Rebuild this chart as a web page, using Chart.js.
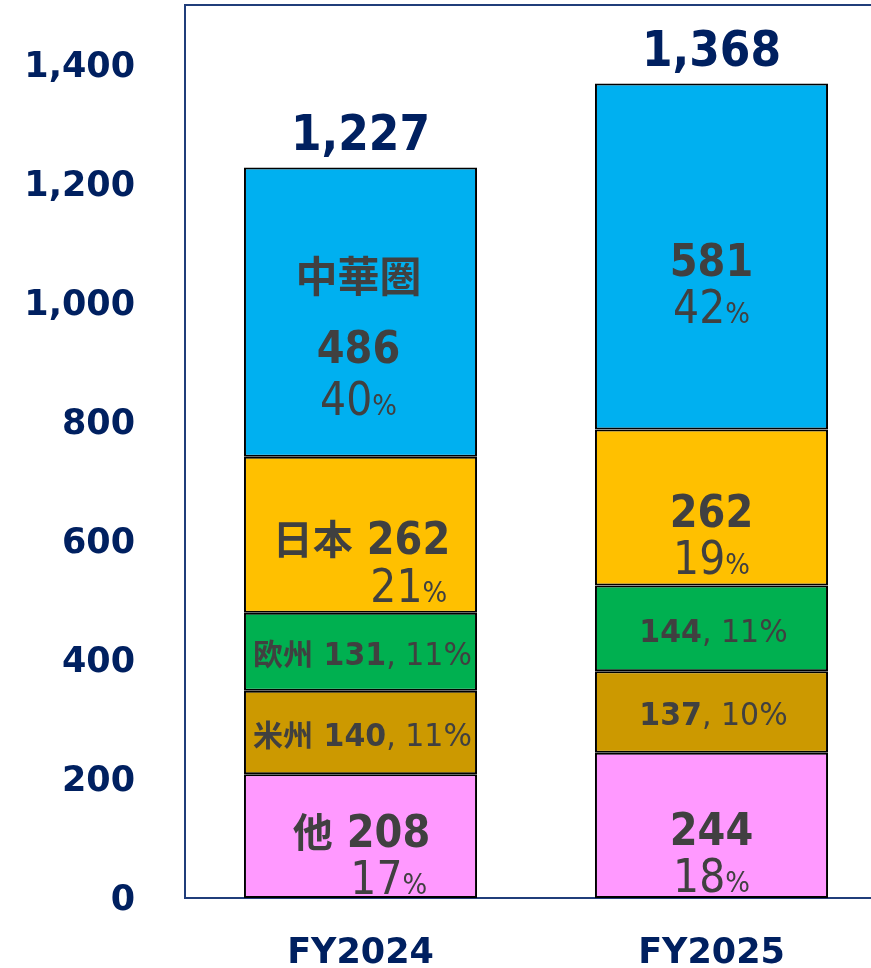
<!DOCTYPE html>
<html>
<head>
<meta charset="utf-8">
<script src="https://cdn.jsdelivr.net/npm/chart.js@4/dist/chart.umd.min.js"></script>
<style>
  html, body { margin: 0; padding: 0; background: #fff; overflow: hidden; }
  canvas { display: block; }
</style>
</head>
<body>
<canvas id="regionChart" width="888" height="968"></canvas>
<script>
// data
const categories = ['FY2024', 'FY2025'];
const regions = ['他', '米州', '欧州', '日本', '中華圏'];
const valOther = [208, 244];
const valAmericas = [140, 137];
const valEurope = [131, 144];
const valJapan = [262, 262];
const valChina = [486, 581];
const shareOther = [17, 18];
const shareAmericas = [11, 10];
const shareEurope = [11, 11];
const shareJapan = [21, 19];
const shareChina = [40, 42];
const totals = [1227, 1368];
const yTicks = [0, 200, 400, 600, 800, 1000, 1200, 1400];

const values = [valOther, valAmericas, valEurope, valJapan, valChina];
const shares = [shareOther, shareAmericas, shareEurope, shareJapan, shareChina];
const colors = ['#FF99FF', '#CC9900', '#00B050', '#FFC000', '#00B0F0'];
const inlineRegions = ['米州', '欧州'];

const FAMILY = "'DejaVu Sans', 'Noto Sans CJK JP', sans-serif";
const NAVY = '#002060';
const AXIS = '#203D7A';
const TEXT = '#404040';
const STRETCH = 1.12; // latin glyphs in the original are a little taller than DejaVu

function runFont(r) {
    return r.w + ' ' + r.s + 'px ' + FAMILY;
}

// draws a list of text runs on one line, vertically centred on y
function drawRuns(ctx, runs, x, y, align) {
    let total = 0;
    let half = 0;
    runs.forEach(r => {
        ctx.font = runFont(r);
        r.width = ctx.measureText(r.t).width;
        total += r.width;
        const sy = r.cjk ? 1 : (r.sy || STRETCH);
        half = Math.max(half, (r.cjk ? 0.38 : 0.729 / 2) * r.s * sy);
    });
    const baseline = y + half;
    const left = align === 'right' ? x - total : x - total / 2;
    let start = left;
    runs.forEach(r => {
        ctx.save();
        ctx.font = runFont(r);
        ctx.translate(start, baseline);
        ctx.scale(1, r.cjk ? 1 : (r.sy || STRETCH));
        ctx.fillText(r.t, 0, 0);
        ctx.restore();
        start += r.width;
    });
    return { left: left, right: left + total };
}

function pctRuns(p) {
    return [{ t: String(p), w: 'normal', s: 41 }, { t: '%', w: 'normal', s: 26 }];
}

const segmentLabels = {
    id: 'segmentLabels',
    afterDatasetsDraw(chart) {
        const ctx = chart.ctx;
        ctx.save();
        ctx.textAlign = 'left';
        ctx.textBaseline = 'alphabetic';
        ctx.fillStyle = TEXT;
        chart.data.datasets.forEach((ds, di) => {
            const meta = chart.getDatasetMeta(di);
            const name = regions[di];
            meta.data.forEach((bar, bi) => {
                const v = values[di][bi];
                const p = shares[di][bi];
                const showName = bi === 0;
                const top = Math.min(bar.y, bar.base);
                const bottom = Math.max(bar.y, bar.base);
                const center = (top + bottom) / 2;
                if (inlineRegions.includes(name)) {
                    const runs = [];
                    if (showName) runs.push({ t: name + ' ', w: 'bold', s: 30, cjk: true });
                    runs.push({ t: String(v), w: 'bold', s: 30, sy: 1.04 });
                    runs.push({ t: ', ' + p + '%', w: 'normal', s: 30, sy: 1.04 });
                    drawRuns(ctx, runs, bar.x + 2, center + 2, 'center');
                    return;
                }
                let valueY = center + 3;
                let pctY = valueY + 47;
                if (pctY > bottom - 21) {
                    pctY = bottom - 21;
                    valueY = pctY - 46;
                }
                if (name === '中華圏' && showName) {
                    valueY = center + 34;
                    pctY = valueY + 52;
                    drawRuns(ctx, [{ t: name, w: 'bold', s: 42, cjk: true }], bar.x - 2, valueY - 70, 'center');
                    drawRuns(ctx, [{ t: String(v), w: 'bold', s: 40 }], bar.x - 2, valueY, 'center');
                    drawRuns(ctx, pctRuns(p), bar.x - 2, pctY, 'center');
                } else if (showName) {
                    const ext = drawRuns(ctx, [
                        { t: name + ' ', w: 'bold', s: 40, cjk: true },
                        { t: String(v), w: 'bold', s: 40 }
                    ], bar.x + 1, valueY, 'center');
                    drawRuns(ctx, pctRuns(p), ext.right - 3, pctY, 'right');
                } else {
                    drawRuns(ctx, [{ t: String(v), w: 'bold', s: 40 }], bar.x, valueY, 'center');
                    drawRuns(ctx, pctRuns(p), bar.x, pctY, 'center');
                }
            });
        });
        // totals above the stacks
        const yScale = chart.scales.y;
        const xScale = chart.scales.x;
        ctx.fillStyle = NAVY;
        totals.forEach((t, i) => {
            const yTop = yScale.getPixelForValue(t);
            drawRuns(ctx, [{ t: t.toLocaleString('en-US'), w: 'bold', s: 44, sy: 1.14 }],
                xScale.getPixelForValue(i), yTop - 18 - 44 * 0.729 * 1.14 / 2, 'center');
        });
        ctx.restore();
    }
};

const topBorder = {
    id: 'topBorder',
    afterDraw(chart) {
        const a = chart.chartArea;
        const ctx = chart.ctx;
        ctx.save();
        ctx.strokeStyle = AXIS;
        ctx.lineWidth = 2;
        ctx.beginPath();
        ctx.moveTo(a.left - 1, a.top);
        ctx.lineTo(a.right, a.top);
        ctx.stroke();
        ctx.restore();
    }
};

const chart = new Chart(document.getElementById('regionChart'), {
    type: 'bar',
    data: {
        labels: categories,
        datasets: regions.map((r, i) => ({
            label: r,
            data: values[i],
            backgroundColor: colors[i],
            borderColor: '#000000',
            borderWidth: 2,
            borderSkipped: false,
            barPercentage: 0.664,
            categoryPercentage: 1
        }))
    },
    options: {
        responsive: false,
        animation: false,
        devicePixelRatio: 1,
        layout: { padding: { top: 5, right: 1, left: 0, bottom: 0 } },
        plugins: {
            legend: { display: false },
            tooltip: { enabled: false }
        },
        scales: {
            x: {
                stacked: true,
                grid: { display: false, drawTicks: false },
                border: { display: true, color: AXIS, width: 2 },
                ticks: {
                    color: NAVY,
                    padding: 35,
                    font: { family: FAMILY, size: 35, weight: 'bold' }
                },
                afterFit: scale => { scale.height = 70; }
            },
            y: {
                stacked: true,
                min: 0,
                max: 1500,
                grid: { display: false, drawTicks: false },
                border: { display: true, color: AXIS, width: 2 },
                afterBuildTicks: scale => { scale.ticks = yTicks.map(v => ({ value: v })); },
                ticks: {
                    color: NAVY,
                    padding: 50,
                    labelOffset: 3,
                    font: { family: FAMILY, size: 35, weight: 'bold' },
                    callback: v => v.toLocaleString('en-US')
                },
                afterFit: scale => {
                    scale.width = 185;
                    scale.paddingTop = 0;
                    scale.paddingBottom = 0;
                }
            }
        }
    },
    plugins: [segmentLabels, topBorder]
});
</script>
</body>
</html>
